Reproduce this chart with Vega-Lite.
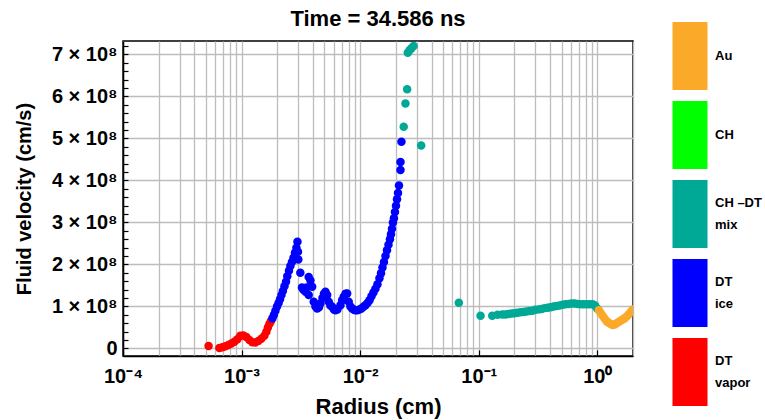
{
  "$schema": "https://vega.github.io/schema/vega-lite/v6.json",
  "width": 510,
  "height": 315,
  "autosize": {"type": "none"},
  "padding": {"left": 123, "top": 41, "right": 132, "bottom": 64},
  "background": "white",
  "config": {
    "font": "Liberation Sans",
    "view": {"stroke": "#000", "strokeWidth": 1.5}
  },
  "title": {"text": "Time = 34.586 ns", "anchor": "middle", "frame": "group", "font": "Liberation Sans", "fontSize": 22, "fontWeight": "bold", "baseline": "alphabetic", "offset": -26, "color": "#000"},
  "data": {"values": [
    {"r": 5.27e-4, "v": 6e6, "m": "DT vapor"},
    {"r": 6.50e-4, "v": 1e6, "m": "DT vapor"},
    {"r": 6.89e-4, "v": 3e6, "m": "DT vapor"},
    {"r": 7.30e-4, "v": 5e6, "m": "DT vapor"},
    {"r": 7.74e-4, "v": 8e6, "m": "DT vapor"},
    {"r": 8.20e-4, "v": 1.2e7, "m": "DT vapor"},
    {"r": 8.69e-4, "v": 1.6e7, "m": "DT vapor"},
    {"r": 9.22e-4, "v": 2.2e7, "m": "DT vapor"},
    {"r": 9.77e-4, "v": 3.0e7, "m": "DT vapor"},
    {"r": 1.035e-3, "v": 3.1e7, "m": "DT vapor"},
    {"r": 1.097e-3, "v": 2.7e7, "m": "DT vapor"},
    {"r": 1.164e-3, "v": 2.0e7, "m": "DT vapor"},
    {"r": 1.233e-3, "v": 1.5e7, "m": "DT vapor"},
    {"r": 1.307e-3, "v": 1.4e7, "m": "DT vapor"},
    {"r": 1.385e-3, "v": 1.8e7, "m": "DT vapor"},
    {"r": 1.468e-3, "v": 2.3e7, "m": "DT vapor"},
    {"r": 1.556e-3, "v": 3.0e7, "m": "DT vapor"},
    {"r": 1.618e-3, "v": 4.0e7, "m": "DT vapor"},
    {"r": 1.667e-3, "v": 5.0e7, "m": "DT vapor"},
    {"r": 1.716e-3, "v": 5.8e7, "m": "DT vapor"},
    {"r": 1.767e-3, "v": 6.5e7, "m": "DT vapor"},
    {"r": 1.82e-3, "v": 7.2e7, "m": "DT ice"},
    {"r": 1.875e-3, "v": 8.0e7, "m": "DT ice"},
    {"r": 1.93e-3, "v": 9.0e7, "m": "DT ice"},
    {"r": 1.99e-3, "v": 1.0e8, "m": "DT ice"},
    {"r": 2.05e-3, "v": 1.08e8, "m": "DT ice"},
    {"r": 2.11e-3, "v": 1.17e8, "m": "DT ice"},
    {"r": 2.17e-3, "v": 1.27e8, "m": "DT ice"},
    {"r": 2.23e-3, "v": 1.37e8, "m": "DT ice"},
    {"r": 2.30e-3, "v": 1.48e8, "m": "DT ice"},
    {"r": 2.37e-3, "v": 1.59e8, "m": "DT ice"},
    {"r": 2.43e-3, "v": 1.72e8, "m": "DT ice"},
    {"r": 2.51e-3, "v": 1.85e8, "m": "DT ice"},
    {"r": 2.58e-3, "v": 1.96e8, "m": "DT ice"},
    {"r": 2.66e-3, "v": 2.06e8, "m": "DT ice"},
    {"r": 2.74e-3, "v": 2.16e8, "m": "DT ice"},
    {"r": 2.82e-3, "v": 2.28e8, "m": "DT ice"},
    {"r": 2.90e-3, "v": 2.40e8, "m": "DT ice"},
    {"r": 2.96e-3, "v": 2.54e8, "m": "DT ice"},
    {"r": 2.99e-3, "v": 2.30e8, "m": "DT ice"},
    {"r": 3.01e-3, "v": 2.12e8, "m": "DT ice"},
    {"r": 3.13e-3, "v": 1.80e8, "m": "DT ice"},
    {"r": 3.23e-3, "v": 1.45e8, "m": "DT ice"},
    {"r": 3.32e-3, "v": 1.40e8, "m": "DT ice"},
    {"r": 3.46e-3, "v": 1.35e8, "m": "DT ice"},
    {"r": 3.53e-3, "v": 1.45e8, "m": "DT ice"},
    {"r": 3.68e-3, "v": 1.70e8, "m": "DT ice"},
    {"r": 3.81e-3, "v": 1.62e8, "m": "DT ice"},
    {"r": 3.94e-3, "v": 1.47e8, "m": "DT ice"},
    {"r": 3.68e-3, "v": 1.27e8, "m": "DT ice"},
    {"r": 4.06e-3, "v": 1.11e8, "m": "DT ice"},
    {"r": 4.20e-3, "v": 1.00e8, "m": "DT ice"},
    {"r": 4.34e-3, "v": 0.95e8, "m": "DT ice"},
    {"r": 4.49e-3, "v": 0.98e8, "m": "DT ice"},
    {"r": 4.62e-3, "v": 1.07e8, "m": "DT ice"},
    {"r": 4.81e-3, "v": 1.20e8, "m": "DT ice"},
    {"r": 4.95e-3, "v": 1.30e8, "m": "DT ice"},
    {"r": 5.10e-3, "v": 1.35e8, "m": "DT ice"},
    {"r": 5.27e-3, "v": 1.27e8, "m": "DT ice"},
    {"r": 5.43e-3, "v": 1.11e8, "m": "DT ice"},
    {"r": 5.61e-3, "v": 1.02e8, "m": "DT ice"},
    {"r": 5.80e-3, "v": 0.99e8, "m": "DT ice"},
    {"r": 6.01e-3, "v": 0.93e8, "m": "DT ice"},
    {"r": 6.19e-3, "v": 0.91e8, "m": "DT ice"},
    {"r": 6.43e-3, "v": 0.93e8, "m": "DT ice"},
    {"r": 6.82e-3, "v": 1.03e8, "m": "DT ice"},
    {"r": 7.05e-3, "v": 1.15e8, "m": "DT ice"},
    {"r": 7.27e-3, "v": 1.23e8, "m": "DT ice"},
    {"r": 7.52e-3, "v": 1.30e8, "m": "DT ice"},
    {"r": 7.77e-3, "v": 1.31e8, "m": "DT ice"},
    {"r": 8.01e-3, "v": 1.11e8, "m": "DT ice"},
    {"r": 8.28e-3, "v": 1.00e8, "m": "DT ice"},
    {"r": 8.55e-3, "v": 0.95e8, "m": "DT ice"},
    {"r": 8.87e-3, "v": 0.92e8, "m": "DT ice"},
    {"r": 9.12e-3, "v": 0.91e8, "m": "DT ice"},
    {"r": 9.48e-3, "v": 0.91e8, "m": "DT ice"},
    {"r": 9.86e-3, "v": 0.93e8, "m": "DT ice"},
    {"r": 1.026e-2, "v": 0.95e8, "m": "DT ice"},
    {"r": 1.067e-2, "v": 0.99e8, "m": "DT ice"},
    {"r": 1.109e-2, "v": 1.03e8, "m": "DT ice"},
    {"r": 1.153e-2, "v": 1.08e8, "m": "DT ice"},
    {"r": 1.199e-2, "v": 1.15e8, "m": "DT ice"},
    {"r": 1.246e-2, "v": 1.24e8, "m": "DT ice"},
    {"r": 1.295e-2, "v": 1.33e8, "m": "DT ice"},
    {"r": 1.346e-2, "v": 1.42e8, "m": "DT ice"},
    {"r": 1.400e-2, "v": 1.53e8, "m": "DT ice"},
    {"r": 1.455e-2, "v": 1.67e8, "m": "DT ice"},
    {"r": 1.499e-2, "v": 1.79e8, "m": "DT ice"},
    {"r": 1.543e-2, "v": 1.93e8, "m": "DT ice"},
    {"r": 1.588e-2, "v": 2.06e8, "m": "DT ice"},
    {"r": 1.636e-2, "v": 2.20e8, "m": "DT ice"},
    {"r": 1.684e-2, "v": 2.34e8, "m": "DT ice"},
    {"r": 1.733e-2, "v": 2.47e8, "m": "DT ice"},
    {"r": 1.784e-2, "v": 2.60e8, "m": "DT ice"},
    {"r": 1.820e-2, "v": 2.72e8, "m": "DT ice"},
    {"r": 1.855e-2, "v": 2.85e8, "m": "DT ice"},
    {"r": 1.890e-2, "v": 3.00e8, "m": "DT ice"},
    {"r": 1.928e-2, "v": 3.10e8, "m": "DT ice"},
    {"r": 1.966e-2, "v": 3.25e8, "m": "DT ice"},
    {"r": 2.005e-2, "v": 3.40e8, "m": "DT ice"},
    {"r": 2.045e-2, "v": 3.55e8, "m": "DT ice"},
    {"r": 2.085e-2, "v": 3.70e8, "m": "DT ice"},
    {"r": 2.126e-2, "v": 3.88e8, "m": "DT ice"},
    {"r": 2.19e-2, "v": 4.25e8, "m": "DT ice"},
    {"r": 2.19e-2, "v": 4.44e8, "m": "DT ice"},
    {"r": 2.23e-2, "v": 4.92e8, "m": "DT ice"},
    {"r": 2.33e-2, "v": 5.28e8, "m": "CH –DT mix"},
    {"r": 2.41e-2, "v": 5.83e8, "m": "CH –DT mix"},
    {"r": 2.49e-2, "v": 6.17e8, "m": "CH –DT mix"},
    {"r": 2.52e-2, "v": 7.04e8, "m": "CH –DT mix"},
    {"r": 2.61e-2, "v": 7.10e8, "m": "CH –DT mix"},
    {"r": 2.71e-2, "v": 7.15e8, "m": "CH –DT mix"},
    {"r": 2.82e-2, "v": 7.20e8, "m": "CH –DT mix"},
    {"r": 3.27e-2, "v": 4.83e8, "m": "CH –DT mix"},
    {"r": 6.79e-2, "v": 1.09e8, "m": "CH –DT mix"},
    {"r": 0.1036, "v": 0.78e8, "m": "CH –DT mix"},
    {"r": 0.130, "v": 0.78e8, "m": "CH –DT mix"},
    {"r": 0.144, "v": 0.80e8, "m": "CH –DT mix"},
    {"r": 0.158, "v": 0.81e8, "m": "CH –DT mix"},
    {"r": 0.168, "v": 0.81e8, "m": "CH –DT mix"},
    {"r": 0.178, "v": 0.82e8, "m": "CH –DT mix"},
    {"r": 0.189, "v": 0.83e8, "m": "CH –DT mix"},
    {"r": 0.200, "v": 0.84e8, "m": "CH –DT mix"},
    {"r": 0.212, "v": 0.85e8, "m": "CH –DT mix"},
    {"r": 0.225, "v": 0.86e8, "m": "CH –DT mix"},
    {"r": 0.239, "v": 0.87e8, "m": "CH –DT mix"},
    {"r": 0.253, "v": 0.88e8, "m": "CH –DT mix"},
    {"r": 0.268, "v": 0.89e8, "m": "CH –DT mix"},
    {"r": 0.284, "v": 0.90e8, "m": "CH –DT mix"},
    {"r": 0.301, "v": 0.92e8, "m": "CH –DT mix"},
    {"r": 0.320, "v": 0.93e8, "m": "CH –DT mix"},
    {"r": 0.339, "v": 0.94e8, "m": "CH –DT mix"},
    {"r": 0.359, "v": 0.96e8, "m": "CH –DT mix"},
    {"r": 0.381, "v": 0.97e8, "m": "CH –DT mix"},
    {"r": 0.403, "v": 0.98e8, "m": "CH –DT mix"},
    {"r": 0.428, "v": 1.00e8, "m": "CH –DT mix"},
    {"r": 0.454, "v": 1.01e8, "m": "CH –DT mix"},
    {"r": 0.481, "v": 1.02e8, "m": "CH –DT mix"},
    {"r": 0.510, "v": 1.04e8, "m": "CH –DT mix"},
    {"r": 0.540, "v": 1.05e8, "m": "CH –DT mix"},
    {"r": 0.573, "v": 1.06e8, "m": "CH –DT mix"},
    {"r": 0.607, "v": 1.07e8, "m": "CH –DT mix"},
    {"r": 0.643, "v": 1.07e8, "m": "CH –DT mix"},
    {"r": 0.682, "v": 1.06e8, "m": "CH –DT mix"},
    {"r": 0.723, "v": 1.05e8, "m": "CH –DT mix"},
    {"r": 0.766, "v": 1.05e8, "m": "CH –DT mix"},
    {"r": 0.812, "v": 1.05e8, "m": "CH –DT mix"},
    {"r": 0.861, "v": 1.05e8, "m": "CH –DT mix"},
    {"r": 0.912, "v": 1.05e8, "m": "CH –DT mix"},
    {"r": 0.958, "v": 1.02e8, "m": "CH –DT mix"},
    {"r": 0.996, "v": 0.95e8, "m": "CH –DT mix"},
    {"r": 1.031, "v": 0.91e8, "m": "Au"},
    {"r": 1.066, "v": 0.85e8, "m": "Au"},
    {"r": 1.108, "v": 0.78e8, "m": "Au"},
    {"r": 1.152, "v": 0.71e8, "m": "Au"},
    {"r": 1.198, "v": 0.65e8, "m": "Au"},
    {"r": 1.246, "v": 0.61e8, "m": "Au"},
    {"r": 1.295, "v": 0.58e8, "m": "Au"},
    {"r": 1.346, "v": 0.56e8, "m": "Au"},
    {"r": 1.400, "v": 0.57e8, "m": "Au"},
    {"r": 1.455, "v": 0.60e8, "m": "Au"},
    {"r": 1.513, "v": 0.63e8, "m": "Au"},
    {"r": 1.573, "v": 0.66e8, "m": "Au"},
    {"r": 1.636, "v": 0.69e8, "m": "Au"},
    {"r": 1.700, "v": 0.72e8, "m": "Au"},
    {"r": 1.768, "v": 0.76e8, "m": "Au"},
    {"r": 1.838, "v": 0.81e8, "m": "Au"},
    {"r": 1.910, "v": 0.87e8, "m": "Au"},
    {"r": 1.986, "v": 0.93e8, "m": "Au"}
  ]},
  "mark": {"type": "point", "filled": true, "size": 72, "opacity": 1, "strokeWidth": 0, "clip": true},
  "encoding": {
    "x": {
      "field": "r", "type": "quantitative",
      "scale": {"type": "log", "domain": [0.0001, 2], "nice": false},
      "axis": {
        "title": "Radius (cm)",
        "values": [0.0001, 0.0002, 0.0003, 0.0004, 0.0005, 0.0006, 0.0007, 0.0008, 0.0009, 0.001, 0.002, 0.003, 0.004, 0.005, 0.006, 0.007, 0.008, 0.009, 0.01, 0.02, 0.03, 0.04, 0.05, 0.06, 0.07, 0.08, 0.09, 0.1, 0.2, 0.3, 0.4, 0.5, 0.6, 0.7, 0.8, 0.9, 1, 2],
        "labelExpr": "datum.value == 0.0001 ? '10⁻⁴' : datum.value == 0.001 ? '10⁻³' : datum.value == 0.01 ? '10⁻²' : datum.value == 0.1 ? '10⁻¹' : datum.value == 1 ? '10⁰' : ''",
        "labelOverlap": false,
        "labelFlush": false,
        "labelFont": "Liberation Sans", "labelFontSize": 20, "labelFontWeight": "bold", "labelColor": "#000",
        "labelPadding": 16,
        "tickSize": -6,
        "tickWidth": 1.2,
        "tickColor": {"condition": {"test": "datum.value == 0.0001 || datum.value == 0.001 || datum.value == 0.01 || datum.value == 0.1 || datum.value == 1", "value": "#000"}, "value": "transparent"},
        "grid": true, "gridColor": "#bdbdbd", "gridWidth": 1.3,
        "domainColor": "#000", "domainWidth": 1.5,
        "titleFont": "Liberation Sans", "titleFontSize": 22, "titleFontWeight": "bold", "titleColor": "#000",
        "titleBaseline": "middle", "titleY": 50
      }
    },
    "y": {
      "field": "v", "type": "quantitative",
      "scale": {"domain": [-18000000, 732000000], "nice": false, "zero": false},
      "axis": {
        "title": "Fluid velocity (cm/s)",
        "values": [0, 20000000, 40000000, 60000000, 80000000, 100000000, 120000000, 140000000, 160000000, 180000000, 200000000, 220000000, 240000000, 260000000, 280000000, 300000000, 320000000, 340000000, 360000000, 380000000, 400000000, 420000000, 440000000, 460000000, 480000000, 500000000, 520000000, 540000000, 560000000, 580000000, 600000000, 620000000, 640000000, 660000000, 680000000, 700000000, 720000000],
        "labelExpr": "datum.value == 0 ? '0' : (datum.value % 100000000 == 0 ? format(datum.value / 100000000, 'd') + ' × 10⁸' : '')",
        "labelOverlap": false,
        "labelFont": "Liberation Sans", "labelFontSize": 20, "labelFontWeight": "bold", "labelColor": "#000",
        "labelPadding": 11,
        "tickSize": -5,
        "tickWidth": 1.2,
        "tickColor": "#000",
        "grid": true,
        "gridColor": "#bdbdbd", "gridWidth": 1.3,
        "gridOpacity": {"condition": {"test": "datum.value % 100000000 == 0", "value": 1}, "value": 0},
        "domainColor": "#000", "domainWidth": 1.5,
        "titleFont": "Liberation Sans", "titleFontSize": 20, "titleFontWeight": "bold", "titleColor": "#000",
        "titleBaseline": "middle", "titleX": -99, "titleY": 157.5, "titleAngle": -90
      }
    },
    "color": {
      "field": "m", "type": "nominal",
      "scale": {"domain": ["Au", "CH", "CH –DT mix", "DT ice", "DT vapor"], "range": ["#FBA928", "#00FF00", "#00A896", "#0000FF", "#FF0000"]},
      "legend": {
        "orient": "none", "legendX": 533, "legendY": -19,
        "title": null,
        "padding": 0,
        "symbolType": "M-0.515,-1H0.515V1H-0.515Z",
        "symbolSize": 4624,
        "symbolStrokeWidth": 0,
        "symbolOpacity": 1,
        "rowPadding": 11,
        "labelOffset": -9,
        "labelFont": "Liberation Sans", "labelFontSize": 13, "labelFontWeight": "bold", "labelColor": "#000",
        "labelExpr": "indexof(datum.label, ' ') < 0 ? datum.label : [slice(datum.label, 0, lastindexof(datum.label, ' ')), slice(datum.label, lastindexof(datum.label, ' ') + 1)]",
        "encode": {"labels": {"update": {"lineHeight": {"value": 22}, "dy": {"signal": "indexof(datum.label, ' ') < 0 ? 0 : -11"}}}}
      }
    }
  }
}
